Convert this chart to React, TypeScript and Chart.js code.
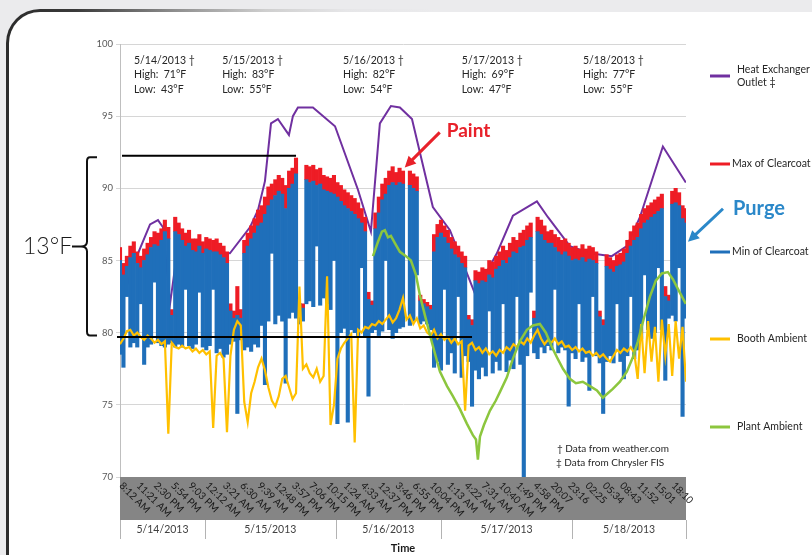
import { useEffect, useRef } from 'react';
import { Chart, registerables } from 'chart.js';

Chart.register(...registerables);

const FONT = 'Lato, "Liberation Sans", Arial, sans-serif';

// ---- axis / category data ----
const timeLabels = [
  '8:12 AM', '11:21 AM', '2:30 PM', '5:54 PM', '9:03 PM', '12:12 AM', '3:21 AM', '6:30 AM', '9:39 AM',
  '12:48 PM', '3:57 PM', '7:06 PM', '10:15 PM', '1:24 AM', '4:33 AM', '12:37 PM', '3:46 PM', '6:55 PM',
  '10:04 PM', '1:13 AM', '4:22 AM', '7:31 AM', '10:40 AM', '1:49 PM', '4:58 PM', '20:07', '23:16',
  '02:25', '05:34', '08:43', '11:52', '15:01', '18:10',
];
const dayLabels = ['5/14/2013', '5/15/2013', '5/16/2013', '5/17/2013', '5/18/2013'];
const dayBounds = [0, 4.92, 12.5, 18.6, 26.2, 32.8];
const weatherHigh = [71, 83, 82, 69, 77];
const weatherLow = [43, 55, 54, 47, 55];
const seriesNames = [
  ['Heat Exchanger', 'Outlet \u2021'],
  ['Max of Clearcoat'],
  ['Min of Clearcoat'],
  ['Booth Ambient'],
  ['Plant Ambient'],
];
const footnotes = ['\u2020 Data from weather.com', '\u2021 Data from Chrysler FIS'];

// ---- series data (sample step = 0.2 tick units) ----
const STEP = 0.2;
const clearMax = [
  85.9, 84.8, 85.3, 86.0, 86.3, 85.6, 85.3, 85.8, 86.2, 86.6,
  87.0, 86.9, 87.2, 87.8, 87.3, 81.6, 88.0, 87.6, 87.2, 86.9,
  87.1, 86.5, 86.5, 86.8, 86.3, 86.6, 86.5, 86.4, 86.5, 86.2,
  86.0, 85.6, 82.0, 81.5, 83.2, 81.6, 86.4, 86.9, 87.4, 87.9,
  88.5, 88.8, 89.4, 90.1, 90.3, 90.6, 90.9, 90.7, 90.2, 91.2,
  91.4, 92.1, 82.0, 82.0, 91.6, 91.5, 91.6, 91.3, 91.4, 90.9,
  90.8, 90.7, 90.9, 90.4, 90.2, 89.9, 89.7, 89.5, 89.3, 89.0,
  88.6, 88.0, 82.8, 82.2, 88.3, 89.4, 90.3, 90.7, 91.2, 91.5,
  91.1, 91.4, 91.2, null, 91.2, 91.0, 90.8, 82.6, 82.3, 82.1,
  81.9, 86.8, 87.5, 87.8, 87.4, 87.1, 86.6, 86.3, 86.0, 85.6,
  85.3, 81.2, 80.9, 84.3, 84.2, 84.5, 84.4, 85.0, 84.9, 85.3,
  85.6, 86.0, 85.7, 86.2, 86.6, 86.4, 86.9, 87.1, 87.4, 87.6,
  81.5, 88.0, 87.8, 87.4, 87.0, 87.1, 86.8, 86.6, 86.4, 86.5,
  86.2, 85.9, 86.0, 85.8, 86.1, 85.8, 86.0, 85.9, 85.6, 81.5,
  80.9, 85.4, 85.2, 85.0, 85.4, 85.5, 85.8, 86.4, 87.0, 87.4,
  87.6, 88.2, 88.6, 88.8, 89.0, 89.2, 89.4, 89.6, 83.2, 82.6,
  89.8, 90.0, 89.7, 88.8, 88.6,
];
const clearMinTop = [
  85.0, 84.0, 84.6, 85.2, 85.5, 84.8, 84.5, 85.0, 85.4, 85.9,
  86.1, 86.0, 86.4, 87.0, 86.5, 81.2, 87.0, 86.8, 86.4, 86.0,
  86.2, 85.7, 85.6, 86.0, 85.5, 85.8, 85.7, 85.6, 85.6, 85.4,
  85.2, 84.8, 81.5, 81.0, 81.2, 81.0, 85.5, 86.0, 86.5, 86.9,
  87.4, 87.6, 88.2, 88.8, 89.2, 89.5, 89.8, 89.6, 88.6, 90.0,
  90.3, 91.0, 82.0, 81.7, 90.6, 90.4, 90.5, 90.2, 90.3, 89.9,
  89.8, 89.7, 89.6, 89.4, 89.1, 88.8, 88.6, 88.4, 88.2, 87.9,
  87.6, 87.0, 82.3, 81.9, 87.2, 88.3, 89.2, 89.6, 90.2, 90.4,
  90.2, 90.4, 90.3, null, 90.2, 90.0, 89.8, 82.2, 82.0, 81.8,
  81.6, 85.6, 86.6, 86.9, 86.6, 86.2, 85.8, 85.4, 85.2, 84.8,
  84.5, 80.9, 80.5, 83.6, 83.4, 83.6, 83.5, 84.0, 83.8, 84.4,
  84.6, 85.0, 84.8, 85.2, 85.6, 85.5, 85.9, 86.0, 86.4, 86.6,
  81.0, 87.0, 86.8, 86.4, 86.2, 86.2, 85.9, 85.6, 85.4, 85.6,
  85.3, 85.0, 85.1, 85.0, 85.2, 84.9, 85.1, 85.0, 84.8, 81.1,
  80.5, 84.6, 84.4, 84.2, 84.6, 84.7, 84.9, 85.5, 86.0, 86.4,
  86.6, 87.2, 87.6, 87.8, 88.0, 88.2, 88.4, 88.6, 82.5, 82.2,
  88.9, 89.0, 88.8, 87.9, 87.6,
];
const clearMinBottom = [
  78.5, 77.6, 82.5, 79.0, 79.3, 79.0, 82.0, 77.8, 79.0, 79.2,
  83.5, 79.3, 79.1, 79.0, 79.2, 79.3, 79.0, 79.2, 79.0, 83.0,
  79.1, 78.9, 79.2, 82.8, 79.0, 78.8, 79.1, 83.0, 78.6, 78.9,
  78.3, 78.5, 79.2, 79.4, 74.4, 79.5, 78.8, 79.0, 78.7, 79.2,
  79.0, 80.5, 76.4, 80.8, 85.5, 80.6, 81.2, 80.8, 76.5, 81.0,
  81.4, 81.0, 80.6, 80.8, 82.0, 82.2, 81.8, 86.0, 81.9, 82.4,
  82.0, 81.6, 85.0, 73.7, 80.0, 80.3, 73.8, 80.2, 80.0, 79.8,
  84.5, 79.7, 75.6, 80.0, 80.2, 79.8, 80.1, 85.0, 80.2, 79.6,
  80.0, 80.3, 80.4, 80.6, 80.5, 80.8, 84.0, 80.6, 80.8, 80.6,
  80.2, 77.6, 78.0, 77.4, 83.0, 77.8, 78.6, 77.2, 82.5, 76.9,
  78.4, 78.0, 74.9, 77.4, 76.8, 77.6, 77.0, 81.5, 77.2, 78.0,
  77.4, 82.0, 77.3, 78.1, 77.5, 82.5, 77.8, 70.0, 78.4, 82.8,
  78.6, 78.2, 79.0, 78.6, 79.1, 78.8, 83.0, 78.6, 79.0, 78.8,
  74.9, 78.6, 78.2, 82.0, 78.0, 78.3, 76.0, 82.5, 78.4, 77.9,
  74.4, 78.0, 78.4, 77.9, 82.0, 78.0, 76.8, 78.4, 82.5, 78.2,
  78.8, 79.6, 84.0, 80.2, 79.6, 80.0, 84.5, 80.2, 76.7, 81.0,
  81.2, 80.8, 84.5, 74.2, 81.0,
];
const boothAmbient = [
  79.2, 79.6, 80.1, 80.2, 79.8, 80.0, 79.7, 79.5, 79.8, 79.6,
  79.3, 79.5, 79.2, 79.4, 73.0, 79.3, 79.0, 78.9, 79.1, 78.9,
  79.0, 78.7, 78.9, 78.6, 78.8, 78.5, 78.7, 73.4, 78.4, 78.6,
  78.2, 73.1, 78.4, 80.2, 80.8, 80.5, 75.2, 73.8, 75.8, 76.6,
  77.6, 78.2, 77.4, 76.2, 75.3, 74.9, 75.6, 76.8, 77.0, 76.2,
  75.4, 75.8, 83.2, 77.5, 77.8, 77.2, 76.9, 77.5, 76.6, 77.0,
  83.9, 73.6, 75.0, 78.2, 78.9, 79.3, 79.6, 79.9, 72.4, 80.2,
  80.0, 80.4, 80.3, 80.6, 80.5, 80.8, 80.6, 80.9, 81.2, 80.7,
  81.0, 81.6, 82.4, 80.9, 81.2, 80.6, 81.0, 80.3, 80.5, 80.0,
  79.8, 80.2, 79.6, 79.9, 79.5, 79.7, 79.3, 79.6, 79.2, 79.4,
  74.6, 79.1, 79.3, 78.8, 79.0, 78.6, 78.9, 78.5, 78.7, 78.4,
  78.8, 78.6, 79.0, 78.8, 79.2, 79.0, 79.4, 79.2, 79.6, 79.3,
  79.8, 80.2, 79.6, 79.2, 79.5, 79.3, 79.6, 79.2, 79.4, 79.0,
  79.1, 78.8, 79.0, 78.7, 78.9, 78.6, 78.7, 78.4, 78.6, 78.3,
  78.5, 78.2, 78.0, 78.4, 78.8, 78.6, 78.9, 78.7, 79.0, 78.6,
  76.8, 80.6, 77.2, 80.8, 78.0, 80.4, 76.6, 80.9, 78.4, 80.6,
  77.0, 80.8, 78.2, 80.4, 76.6,
];
const plantTimes = [
  14.66, 14.95, 15.18, 15.35, 15.53, 15.70, 15.93, 16.22, 16.57, 16.86,
  17.15, 17.38, 17.67, 18.08, 18.54, 18.95, 19.29, 19.70, 20.10, 20.45,
  20.63, 20.74, 20.86, 21.09, 21.44, 21.78, 22.02, 22.42, 22.77, 23.17,
  23.58, 23.93, 24.33, 24.68, 25.03, 25.32, 25.67, 26.07, 26.42, 26.82,
  27.23, 27.64, 27.98, 28.27, 28.56, 28.97, 29.37, 29.72, 30.01, 30.36,
  30.71, 31.05, 31.40, 31.75, 32.04, 32.39, 32.79,
];
const plantAmbient = [
  85.3, 86.3, 87.0, 87.1, 86.6, 86.7, 86.2, 85.6, 85.3, 85.0,
  84.0, 82.6, 81.2, 79.3, 77.3, 76.3, 75.6, 74.7, 73.7, 72.9,
  72.6, 71.2, 72.8, 73.6, 74.6, 75.3, 75.9, 76.9, 78.2, 79.4,
  80.2, 80.5, 80.6, 80.0, 79.0, 78.3, 77.5, 76.8, 76.5, 76.6,
  76.3, 76.0, 75.5, 75.8, 76.1, 76.6, 77.3, 78.3, 79.4, 81.0,
  82.5, 83.6, 84.1, 84.2, 83.7, 82.9, 82.0,
];
const heatTimes = [
  0.06, 0.87, 1.74, 2.20, 2.49, 2.90, 3.36, 3.77, 6.37, 7.53,
  8.00, 8.40, 8.75, 9.15, 9.79, 10.02, 10.31, 11.18, 12.46, 13.79,
  14.54, 15.06, 15.70, 16.22, 16.92, 18.13, 19.12, 20.57, 21.84, 22.77,
  24.16, 24.80, 26.07, 27.23, 28.50, 29.37, 30.13, 31.46, 32.79,
];
const heatOutlet = [
  82.0, 85.0, 87.5, 87.8, 87.3, 82.0, 86.0, 85.8, 85.5, 87.3,
  88.5, 90.5, 94.5, 94.8, 93.7, 95.0, 95.6, 95.6, 94.3, 89.9,
  87.0, 94.5, 95.7, 95.6, 94.8, 88.7, 87.1, 82.7, 85.5, 88.1,
  89.1, 88.0, 86.0, 85.5, 85.3, 86.0, 88.0, 92.9, 90.4,
];

const COLORS = ['#7030A0', '#EE1C25', '#1F6FBA', '#FFC000', '#8CC63E'];

// ---- build library tables ----
const redBars: any[] = [];
const blueBars: any[] = [];
clearMax.forEach((v, i) => {
  const top = clearMinTop[i];
  if (v != null && top != null) redBars.push({ x: i * STEP, y: [top, v] });
  if (top != null) blueBars.push({ x: i * STEP, y: [clearMinBottom[i], top] });
});
const boothPts = boothAmbient.map((v, i) => ({ x: i * STEP, y: v }));
const plantPts = plantTimes.map((t, i) => ({ x: t, y: plantAmbient[i] }));
const heatPts = heatTimes.map((t, i) => ({ x: t, y: heatOutlet[i] }));

function drawArrow(ctx: CanvasRenderingContext2D, x1: number, y1: number, x2: number, y2: number, color: string) {
  const ang = Math.atan2(y2 - y1, x2 - x1);
  const hl = 11;
  const hw = 5.5;
  ctx.save();
  ctx.strokeStyle = color;
  ctx.fillStyle = color;
  ctx.lineWidth = 3;
  ctx.beginPath();
  ctx.moveTo(x1, y1);
  ctx.lineTo(x2 - Math.cos(ang) * hl * 0.8, y2 - Math.sin(ang) * hl * 0.8);
  ctx.stroke();
  ctx.beginPath();
  ctx.moveTo(x2, y2);
  ctx.lineTo(x2 - Math.cos(ang) * hl - Math.sin(ang) * hw, y2 - Math.sin(ang) * hl + Math.cos(ang) * hw);
  ctx.lineTo(x2 - Math.cos(ang) * hl + Math.sin(ang) * hw, y2 - Math.sin(ang) * hl - Math.cos(ang) * hw);
  ctx.closePath();
  ctx.fill();
  ctx.restore();
}

const overlayPlugin = {
  id: 'overlay',
  afterDatasetsDraw(chart: any) {
    const { ctx, chartArea: ca, scales } = chart;
    const x = scales.x;
    const y = scales.y;
    ctx.save();
    // reference lines
    ctx.strokeStyle = '#000';
    ctx.lineWidth = 2;
    const yUp = y.getPixelForValue(92.25);
    const yLo = y.getPixelForValue(79.7);
    ctx.beginPath();
    ctx.moveTo(ca.left + 2, yUp);
    ctx.lineTo(x.getPixelForValue(10.2), yUp);
    ctx.moveTo(ca.left - 3, yLo);
    ctx.lineTo(x.getPixelForValue(20.4), yLo);
    ctx.stroke();
    ctx.restore();
  },
  afterDraw(chart: any) {
    const { ctx, chartArea: ca, scales } = chart;
    const x = scales.x;
    const y = scales.y;
    ctx.save();

    // gray category band
    ctx.fillStyle = '#858585';
    ctx.fillRect(ca.left, ca.bottom, ca.right - ca.left, 43);
    ctx.fillStyle = '#161616';
    ctx.font = `10px ${FONT}`;
    ctx.textAlign = 'left';
    ctx.textBaseline = 'middle';
    timeLabels.forEach((lab, i) => {
      const px = x.getPixelForValue(i);
      ctx.save();
      ctx.translate(px + 1, ca.bottom + 7);
      ctx.rotate(Math.PI / 4);
      ctx.fillText(lab, 0, 0);
      ctx.restore();
    });

    // day groups
    ctx.strokeStyle = '#b3b3b3';
    ctx.lineWidth = 1;
    dayBounds.forEach((b) => {
      const px = Math.round(x.getPixelForValue(b)) + 0.5;
      ctx.beginPath();
      ctx.moveTo(px, ca.bottom + 43);
      ctx.lineTo(px, ca.bottom + 62);
      ctx.stroke();
    });
    ctx.fillStyle = '#404040';
    ctx.font = `10.5px ${FONT}`;
    ctx.textAlign = 'center';
    dayLabels.forEach((d, i) => {
      const px = (x.getPixelForValue(dayBounds[i]) + x.getPixelForValue(dayBounds[i + 1])) / 2;
      ctx.fillText(d, px, ca.bottom + 53);
    });
    ctx.fillStyle = '#1a1a1a';
    ctx.font = `bold 11px ${FONT}`;
    ctx.fillText('Time', (ca.left + ca.right) / 2, ca.bottom + 71);

    // weather notes
    const noteAt = [0.81, 5.92, 12.92, 19.81, 26.83];
    ctx.textAlign = 'left';
    ctx.fillStyle = '#262626';
    ctx.font = `10.5px ${FONT}`;
    dayLabels.forEach((d, i) => {
      const px = x.getPixelForValue(noteAt[i]);
      ctx.fillText(`${d} \u2020`, px, ca.top + 17);
      ctx.fillText(`High:  ${weatherHigh[i]}\u00B0F`, px, ca.top + 31);
      ctx.fillText(`Low:  ${weatherLow[i]}\u00B0F`, px, ca.top + 46);
    });

    // footnotes
    ctx.font = `10px ${FONT}`;
    ctx.fillText(footnotes[0], 557, 449);
    ctx.fillText(footnotes[1], 556, 463);

    // legend
    const legY = [76, 164, 252, 339, 427];
    const legTextX = [737, 732, 732, 737, 737];
    ctx.font = `10.5px ${FONT}`;
    seriesNames.forEach((lines, i) => {
      ctx.strokeStyle = COLORS[i];
      ctx.lineWidth = 3;
      ctx.beginPath();
      ctx.moveTo(710, legY[i]);
      ctx.lineTo(730, legY[i]);
      ctx.stroke();
      ctx.fillStyle = '#262626';
      const off = (lines.length - 1) * 6.8;
      lines.forEach((ln, k) => ctx.fillText(ln, legTextX[i], legY[i] - off + k * 13.6));
    });

    // bracket + 13°F
    const bTop = y.getPixelForValue(92.15);
    const bBot = y.getPixelForValue(79.8);
    const bMid = (bTop + bBot) / 2;
    ctx.strokeStyle = '#111';
    ctx.lineWidth = 2;
    ctx.beginPath();
    ctx.moveTo(97, bTop);
    ctx.lineTo(90, bTop);
    ctx.quadraticCurveTo(87, bTop, 87, bTop + 4);
    ctx.lineTo(87, bMid - 5);
    ctx.quadraticCurveTo(87, bMid, 81, bMid);
    ctx.quadraticCurveTo(87, bMid, 87, bMid + 5);
    ctx.lineTo(87, bBot - 4);
    ctx.quadraticCurveTo(87, bBot, 90, bBot);
    ctx.lineTo(97, bBot);
    ctx.moveTo(72, bMid);
    ctx.lineTo(82, bMid);
    ctx.stroke();
    ctx.fillStyle = '#1a1a1a';
    ctx.font = `300 23px ${FONT}`;
    ctx.textAlign = 'left';
    ctx.fillText('13\u00B0F', 23, bMid);

    // Paint annotation
    const pTipX = x.getPixelForValue(16.5);
    const pTipY = y.getPixelForValue(91.45);
    drawArrow(ctx, pTipX + 35, pTipY - 35, pTipX, pTipY, '#E8212A');
    ctx.fillStyle = '#E8212A';
    ctx.font = `bold 19px ${FONT}`;
    ctx.fillText('Paint', pTipX + 42, pTipY - 37);

    // Purge annotation
    const gTipX = ca.right + 2;
    const gTipY = y.getPixelForValue(86.3);
    drawArrow(ctx, gTipX + 35, gTipY - 33, gTipX, gTipY, '#2B88C9');
    ctx.fillStyle = '#2B88C9';
    ctx.font = `bold 20px ${FONT}`;
    ctx.fillText('Purge', gTipX + 45, gTipY - 33);

    ctx.restore();
  },
};

export default function App() {
  const ref = useRef<HTMLCanvasElement>(null);
  useEffect(() => {
    if (!ref.current) return;
    Chart.defaults.font.family = FONT;
    const chart = new Chart(ref.current, {
      type: 'bar',
      data: {
        datasets: [
          {
            type: 'line',
            label: 'Heat Exchanger Outlet',
            data: heatPts,
            borderColor: COLORS[0],
            borderWidth: 2,
            pointRadius: 0,
            tension: 0,
            order: 5,
          } as any,
          {
            type: 'bar',
            label: 'Max of Clearcoat',
            data: redBars,
            backgroundColor: COLORS[1],
            borderWidth: 0,
            barPercentage: 1,
            categoryPercentage: 1,
            grouped: false,
            order: 4,
          },
          {
            type: 'bar',
            label: 'Min of Clearcoat',
            data: blueBars,
            backgroundColor: COLORS[2],
            borderWidth: 0,
            barPercentage: 1,
            categoryPercentage: 1,
            grouped: false,
            order: 3,
          },
          {
            type: 'line',
            label: 'Booth Ambient',
            data: boothPts,
            borderColor: COLORS[3],
            borderWidth: 2.2,
            pointRadius: 0,
            tension: 0,
            order: 2,
          } as any,
          {
            type: 'line',
            label: 'Plant Ambient',
            data: plantPts,
            borderColor: COLORS[4],
            borderWidth: 2.5,
            pointRadius: 0,
            tension: 0,
            order: 1,
          } as any,
        ],
      },
      options: {
        responsive: true,
        maintainAspectRatio: false,
        animation: false,
        layout: { padding: { left: 0, right: 126, top: 44, bottom: 0 } },
        plugins: { legend: { display: false }, tooltip: { enabled: false } },
        scales: {
          x: {
            type: 'linear',
            min: 0,
            max: 32.8,
            offset: false,
            grid: { display: false },
            border: { display: false },
            ticks: { display: false },
            afterFit: (s: any) => { s.height = 78; },
          },
          y: {
            type: 'linear',
            min: 70,
            max: 100,
            ticks: { stepSize: 5, color: '#595959', font: { size: 9.5, family: FONT }, padding: 3 },
            grid: { color: '#d6d6d6', tickLength: 4 },
            border: { color: '#bfbfbf' },
            afterFit: (s: any) => { s.width = 120; },
          },
        },
      } as any,
      plugins: [overlayPlugin],
    });
    return () => chart.destroy();
  }, []);

  return (
    <div style={{ position: 'fixed', left: 0, top: 0, width: 812, height: 555, background: '#ebebed', overflow: 'hidden' }}>
      <div
        style={{
          position: 'absolute', left: 6, top: 9, width: 900, height: 700, borderTopLeftRadius: 34,
          background: 'linear-gradient(to right, #2b2b2b 0px, #3a3a3a 70px, #8f8f8f 170px, #cfcfcf 260px, #e6e6e8 340px, #ebebed 430px)',
        }}
      />
      <div style={{ position: 'absolute', left: 9, top: 12, width: 900, height: 700, borderTopLeftRadius: 31, background: '#fff' }} />
      <div style={{ position: 'absolute', left: 0, top: 0, width: 812, height: 555 }}>
        <canvas ref={ref} />
      </div>
    </div>
  );
}
